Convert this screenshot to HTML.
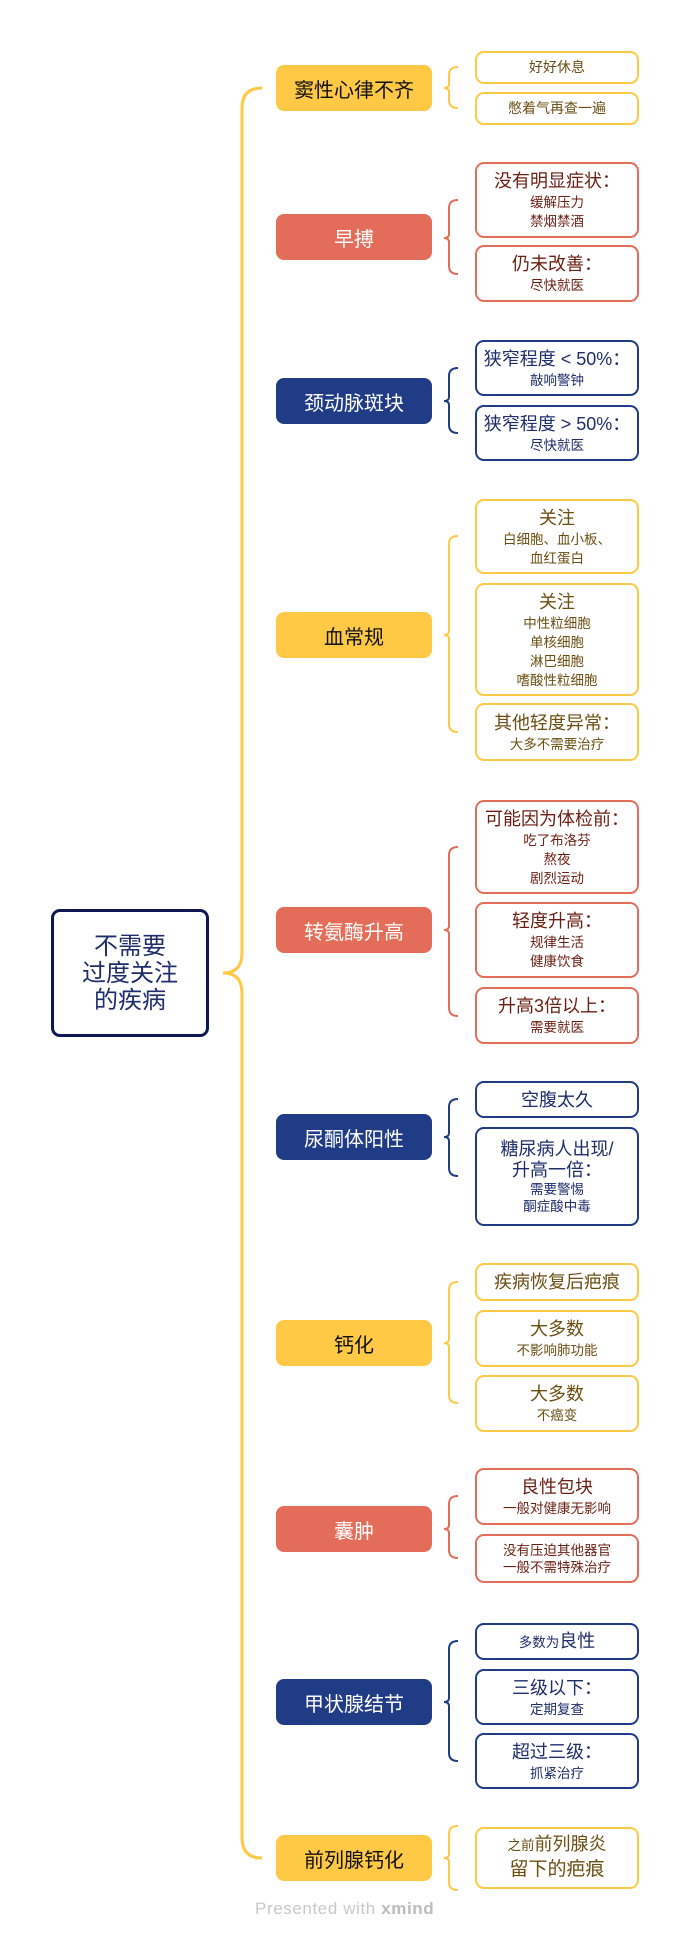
<!DOCTYPE html>
<html><head><meta charset="utf-8"><style>
*{margin:0;padding:0;box-sizing:border-box}
body{width:690px;height:1940px;background:#fff;position:relative;overflow:hidden;font-family:"Liberation Sans","Noto Sans CJK SC",sans-serif}
.b{position:absolute;left:276px;width:156px;height:46px;border-radius:8px;display:flex;align-items:center;justify-content:center;font-size:20px}
.y{background:#FFC845;color:#111}.r{background:#E36D58;color:#fff}.n{background:#203C86;color:#fff}
.l{position:absolute;left:475px;width:164px;border:2px solid;border-radius:9px;background:#fff;display:flex;flex-direction:column;align-items:center;justify-content:center;text-align:center}
.ly{border-color:#FFC845;color:#6B4E10}.lr{border-color:#E36D58;color:#6B1E12}.ln{border-color:#203C86;color:#1E2D6B}
.m{font-size:18px;line-height:24px}.s{font-size:13.5px;line-height:19px}
</style></head><body>
<svg width="690" height="1940" style="position:absolute;left:0;top:0" fill="none" stroke-width="3">
<path d="M262 88 Q242 88 242 108 L242 953 Q242 973 223 973 Q242 973 242 993 L242 1838 Q242 1858 262 1858" stroke="#FFC845"/>
<g stroke-width="2">
<path d="M458 67 Q449 67 449 75 L449 84 Q449 88 444 88 Q449 88 449 92 L449 100 Q449 108 458 108" stroke="#FFC845"/>
<path d="M458 200 Q449 200 449 208 L449 234 Q449 238 444 238 Q449 238 449 242 L449 266 Q449 274 458 274" stroke="#E36D58"/>
<path d="M458 368 Q449 368 449 376 L449 397 Q449 401 444 401 Q449 401 449 405 L449 425 Q449 433 458 433" stroke="#203C86"/>
<path d="M458 536 Q449 536 449 544 L449 631 Q449 635 444 635 Q449 635 449 639 L449 724 Q449 732 458 732" stroke="#FFC845"/>
<path d="M458 847 Q449 847 449 855 L449 926 Q449 930 444 930 Q449 930 449 934 L449 1008 Q449 1016 458 1016" stroke="#E36D58"/>
<path d="M458 1099 Q449 1099 449 1107 L449 1133 Q449 1137 444 1137 Q449 1137 449 1141 L449 1168 Q449 1176 458 1176" stroke="#203C86"/>
<path d="M458 1282 Q449 1282 449 1290 L449 1339 Q449 1343 444 1343 Q449 1343 449 1347 L449 1395 Q449 1403 458 1403" stroke="#FFC845"/>
<path d="M458 1496 Q449 1496 449 1504 L449 1525 Q449 1529 444 1529 Q449 1529 449 1533 L449 1550 Q449 1558 458 1558" stroke="#E36D58"/>
<path d="M458 1641 Q449 1641 449 1649 L449 1698 Q449 1702 444 1702 Q449 1702 449 1706 L449 1753 Q449 1761 458 1761" stroke="#203C86"/>
<path d="M458 1826 Q449 1826 449 1834 L449 1854 Q449 1858 444 1858 Q449 1858 449 1862 L449 1882 Q449 1890 458 1890" stroke="#FFC845"/>
</g></svg>
<div style="position:absolute;left:51px;top:909px;width:158px;height:128px;border:3px solid #0F1654;border-radius:9px;display:flex;align-items:center;justify-content:center;text-align:center;color:#1E2D6B;font-size:24px;line-height:27px">不需要<br>过度关注<br>的疾病</div>

<div class="b y" style="top:65px">窦性心律不齐</div>
<div class="b r" style="top:214px">早搏</div>
<div class="b n" style="top:378px">颈动脉斑块</div>
<div class="b y" style="top:612px">血常规</div>
<div class="b r" style="top:907px">转氨酶升高</div>
<div class="b n" style="top:1114px">尿酮体阳性</div>
<div class="b y" style="top:1320px">钙化</div>
<div class="b r" style="top:1506px">囊肿</div>
<div class="b n" style="top:1679px">甲状腺结节</div>
<div class="b y" style="top:1835px">前列腺钙化</div>

<div class="l ly" style="top:51px;height:33px"><div class="s" style="font-size:14px">好好休息</div></div>
<div class="l ly" style="top:92px;height:33px"><div class="s" style="font-size:14px">憋着气再查一遍</div></div>
<div class="l lr" style="top:162px;height:76px"><div class="m">没有明显症状：</div><div class="s">缓解压力</div><div class="s">禁烟禁酒</div></div>
<div class="l lr" style="top:245px;height:57px"><div class="m">仍未改善：</div><div class="s">尽快就医</div></div>
<div class="l ln" style="top:340px;height:56px"><div class="m">狭窄程度 &lt; 50%：</div><div class="s">敲响警钟</div></div>
<div class="l ln" style="top:405px;height:56px"><div class="m">狭窄程度 &gt; 50%：</div><div class="s">尽快就医</div></div>
<div class="l ly" style="top:499px;height:75px"><div class="m">关注</div><div class="s">白细胞、血小板、</div><div class="s">血红蛋白</div></div>
<div class="l ly" style="top:583px;height:113px"><div class="m">关注</div><div class="s">中性粒细胞</div><div class="s">单核细胞</div><div class="s">淋巴细胞</div><div class="s">嗜酸性粒细胞</div></div>
<div class="l ly" style="top:703px;height:58px"><div class="m">其他轻度异常：</div><div class="s">大多不需要治疗</div></div>
<div class="l lr" style="top:800px;height:94px"><div class="m">可能因为体检前：</div><div class="s">吃了布洛芬</div><div class="s">熬夜</div><div class="s">剧烈运动</div></div>
<div class="l lr" style="top:902px;height:76px"><div class="m">轻度升高：</div><div class="s">规律生活</div><div class="s">健康饮食</div></div>
<div class="l lr" style="top:987px;height:57px"><div class="m">升高3倍以上：</div><div class="s">需要就医</div></div>
<div class="l ln" style="top:1081px;height:37px"><div class="m">空腹太久</div></div>
<div class="l ln" style="top:1127px;height:99px"><div class="m" style="line-height:21px">糖尿病人出现/</div><div class="m" style="line-height:21px">升高一倍：</div><div class="s" style="line-height:17px">需要警惕</div><div class="s" style="line-height:17px">酮症酸中毒</div></div>
<div class="l ly" style="top:1263px;height:38px"><div class="m">疾病恢复后疤痕</div></div>
<div class="l ly" style="top:1310px;height:57px"><div class="m">大多数</div><div class="s">不影响肺功能</div></div>
<div class="l ly" style="top:1375px;height:57px"><div class="m">大多数</div><div class="s">不癌变</div></div>
<div class="l lr" style="top:1468px;height:57px"><div class="m">良性包块</div><div class="s">一般对健康无影响</div></div>
<div class="l lr" style="top:1534px;height:49px"><div class="s" style="line-height:17px">没有压迫其他器官</div><div class="s" style="line-height:17px">一般不需特殊治疗</div></div>
<div class="l ln" style="top:1623px;height:37px"><div class="m"><span style="font-size:13.5px">多数为</span>良性</div></div>
<div class="l ln" style="top:1669px;height:56px"><div class="m">三级以下：</div><div class="s">定期复查</div></div>
<div class="l ln" style="top:1733px;height:56px"><div class="m">超过三级：</div><div class="s">抓紧治疗</div></div>
<div class="l ly" style="top:1827px;height:62px"><div class="m" style="line-height:22px"><span style="font-size:13.5px">之前</span>前列腺炎</div><div class="m" style="font-size:19px;line-height:26px">留下的疤痕</div></div>

<div style="position:absolute;left:255px;top:1899px;font-size:17px;color:#c8c8c8;letter-spacing:0.6px">Presented with <b style="color:#bcbcbc">xmind</b></div>
</body></html>
